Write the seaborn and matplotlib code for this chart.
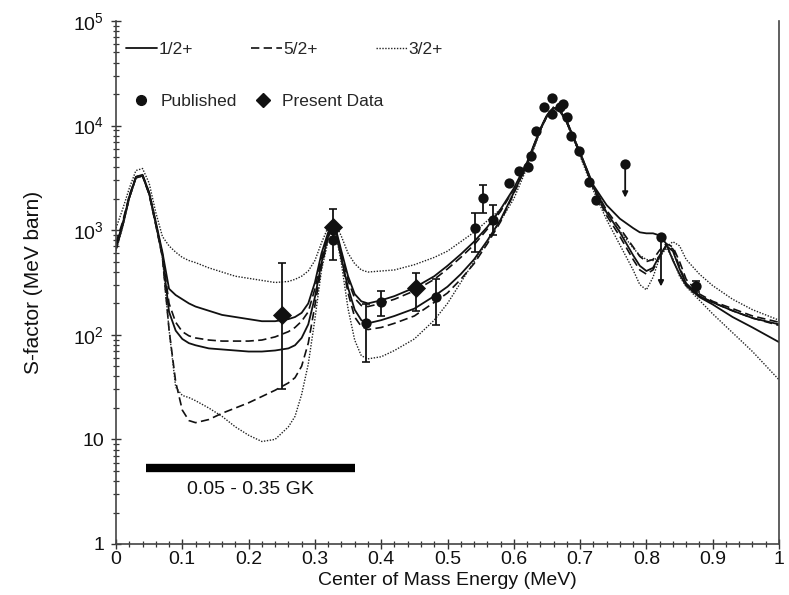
import numpy as np
import matplotlib
matplotlib.use("Agg")
import matplotlib.pyplot as plt
import seaborn as sns
from matplotlib.lines import Line2D
from matplotlib.ticker import FixedLocator, MultipleLocator, LogLocator, NullFormatter

# ---------------- data ----------------
energy = [0.00, 0.01, 0.02, 0.03, 0.04, 0.05, 0.06, 0.07, 0.08, 0.09, 0.10, 0.11, 0.12,
          0.14, 0.16, 0.18, 0.20, 0.22, 0.24, 0.26,
          0.27, 0.28, 0.29, 0.30, 0.31, 0.32, 0.33, 0.34, 0.35, 0.36, 0.37, 0.38,
          0.40, 0.42, 0.45, 0.48, 0.50, 0.52, 0.54, 0.56, 0.58, 0.60,
          0.62, 0.64, 0.65, 0.66, 0.67, 0.68, 0.70, 0.72,
          0.74, 0.76, 0.78, 0.79, 0.80, 0.81, 0.82, 0.83, 0.84, 0.85, 0.86, 0.88, 0.90, 0.93, 0.96, 1.00]

# log10 of S-factor along each curve
half_a_log = [2.85, 3.06, 3.32, 3.51, 3.53, 3.36, 3.08, 2.79, 2.44, 2.38, 2.34, 2.30, 2.27,
              2.23, 2.19, 2.17, 2.15, 2.13, 2.13, 2.15,
              2.17, 2.21, 2.30, 2.50, 2.78, 2.98, 3.05, 2.80, 2.56, 2.39, 2.32, 2.30,
              2.33, 2.37, 2.45, 2.56, 2.66, 2.77, 2.89, 3.03, 3.20, 3.40,
              3.65, 3.97, 4.10, 4.17, 4.14, 4.04, 3.74, 3.43,
              3.24, 3.11, 3.02, 2.98, 2.97, 2.97, 2.95, 2.87, 2.71, 2.58, 2.47, 2.36, 2.29, 2.17, 2.07, 1.93]
half_b_log = [2.82, 3.04, 3.31, 3.50, 3.52, 3.35, 3.06, 2.76, 2.22, 2.04, 1.96, 1.92, 1.90,
              1.87, 1.86, 1.85, 1.84, 1.84, 1.85, 1.87,
              1.90, 1.97, 2.10, 2.36, 2.69, 2.94, 3.03, 2.73, 2.45, 2.24, 2.14, 2.11,
              2.14, 2.18, 2.25, 2.37, 2.46, 2.58, 2.72, 2.90, 3.10, 3.36,
              3.63, 3.96, 4.09, 4.17, 4.14, 4.03, 3.73, 3.41,
              3.17, 2.98, 2.76, 2.66, 2.61, 2.64, 2.76, 2.85, 2.80, 2.63, 2.49, 2.37, 2.31, 2.23, 2.16, 2.10]
five_a_log = [2.88, 3.08, 3.33, 3.51, 3.53, 3.36, 3.07, 2.77, 2.30, 2.12, 2.03, 1.99, 1.97,
              1.95, 1.94, 1.94, 1.94, 1.95, 1.98, 2.03,
              2.07, 2.13, 2.22, 2.44, 2.73, 2.96, 3.04, 2.78, 2.52, 2.35, 2.28, 2.27,
              2.30, 2.34, 2.42, 2.53, 2.63, 2.74, 2.86, 3.01, 3.18, 3.39,
              3.64, 3.97, 4.10, 4.17, 4.14, 4.04, 3.74, 3.42,
              3.19, 3.02, 2.84, 2.75, 2.70, 2.72, 2.81, 2.87, 2.84, 2.70, 2.53, 2.39, 2.32, 2.25, 2.18, 2.12]
five_b_log = [2.84, 3.05, 3.31, 3.50, 3.52, 3.34, 3.05, 2.74, 2.05, 1.55, 1.28, 1.18, 1.16,
              1.19, 1.25, 1.30, 1.35, 1.41, 1.47, 1.54,
              1.59, 1.70, 1.92, 2.28, 2.65, 2.93, 3.03, 2.73, 2.40, 2.17, 2.08, 2.05,
              2.07, 2.11, 2.18, 2.31, 2.40, 2.53, 2.68, 2.87, 3.08, 3.35,
              3.63, 3.96, 4.09, 4.17, 4.14, 4.03, 3.73, 3.40,
              3.14, 2.94, 2.72, 2.62, 2.58, 2.62, 2.75, 2.86, 2.82, 2.65, 2.49, 2.37, 2.31, 2.23, 2.16, 2.09]
three_a_log = [3.02, 3.20, 3.40, 3.57, 3.59, 3.45, 3.17, 2.94, 2.85, 2.79, 2.74, 2.71, 2.69,
               2.64, 2.60, 2.56, 2.54, 2.52, 2.50, 2.51,
               2.53, 2.56, 2.61, 2.71, 2.88, 3.03, 3.08, 2.94, 2.78, 2.68, 2.62, 2.60,
               2.61, 2.62, 2.67, 2.74, 2.80, 2.89, 2.98, 3.09, 3.20, 3.38,
               3.64, 3.97, 4.10, 4.18, 4.15, 4.05, 3.75, 3.42,
               3.16, 2.99, 2.83, 2.76, 2.72, 2.71, 2.75, 2.84, 2.89, 2.85, 2.72, 2.58, 2.47, 2.34, 2.24, 2.14]
three_b_log = [2.80, 3.03, 3.30, 3.50, 3.52, 3.34, 3.05, 2.74, 2.05, 1.50, 1.42, 1.40, 1.37,
               1.30, 1.22, 1.12, 1.04, 0.98, 1.00, 1.12,
               1.22, 1.43, 1.72, 2.15, 2.62, 2.90, 3.02, 2.68, 2.25, 1.95, 1.80, 1.77,
               1.79, 1.85, 1.96, 2.14, 2.30, 2.50, 2.70, 2.89, 3.09, 3.30,
               3.60, 3.95, 4.09, 4.17, 4.13, 4.02, 3.71, 3.38,
               3.10, 2.86, 2.62, 2.48, 2.43, 2.55, 2.74, 2.83, 2.73, 2.56, 2.46, 2.33, 2.20, 2.02, 1.84, 1.57]

# published data (circles)
pub_e = [0.327, 0.377, 0.400, 0.483, 0.542, 0.553, 0.568, 0.593, 0.608, 0.621, 0.626, 0.634,
         0.646, 0.658, 0.658, 0.669, 0.674, 0.680, 0.687, 0.699, 0.714, 0.724, 0.875]
pub_s = [800, 130, 205, 230, 1050, 2050, 1260, 2800, 3700, 4000, 5100, 8900,
         15000, 18500, 13000, 15000, 16000, 12000, 8000, 5700, 2900, 1950, 290]
# error bars on published data
pub_err_e = [0.377, 0.400, 0.483, 0.542, 0.553, 0.568, 0.875]
pub_err_s = [130, 205, 230, 1050, 2050, 1260, 290]
pub_err_lo = [55, 150, 125, 615, 1450, 890, 255]
pub_err_hi = [195, 260, 340, 1450, 2700, 1740, 330]
# upper limits (arrows)
lim_e = [0.768, 0.822]
lim_s = [4300, 870]
lim_to = [2050, 290]

# present data (diamonds)
pres_e = [0.251, 0.327, 0.452]
pres_s = [155, 1070, 280]
pres_lo = [30, 520, 170]
pres_hi = [485, 1600, 390]

# temperature window bar
gk_range = [0.045, 0.36]
gk_level = [5.3, 5.3]
gk_label = "0.05 - 0.35 GK"

legend_lines = ["1/2+", "5/2+", "3/2+"]
legend_marks = ["Published", "Present Data"]

# ---------------- figure ----------------
sns.set_theme(style="white")
plt.rcParams["font.family"] = ["Liberation Sans", "DejaVu Sans"]
plt.rcParams["mathtext.fontset"] = "custom"
plt.rcParams["mathtext.rm"] = "Liberation Sans"

W, H = 789, 595
fig = plt.figure(figsize=(W / 100, H / 100), dpi=100)
ax = fig.add_axes([116 / W, 1 - 544 / H, (779 - 116) / W, (544 - 21) / H])

ink = "#111111"
solid = dict(color=ink, lw=1.3, linestyle="-")
dashed = dict(color=ink, lw=1.2, linestyle=(0, (5, 2.6)))
dotted = dict(color="#222222", lw=1.0, linestyle=(0, (1.0, 1.1)))

e = np.array(energy)
for logs, sty in [(half_a_log, solid), (half_b_log, solid),
                  (five_a_log, dashed), (five_b_log, dashed),
                  (three_a_log, dotted), (three_b_log, dotted)]:
    sns.lineplot(x=e, y=10 ** np.array(logs), ax=ax, estimator=None, sort=False,
                 legend=False, **sty)

# error bars
ps = np.array(pub_err_s)
ax.errorbar(pub_err_e, ps, yerr=[ps - np.array(pub_err_lo), np.array(pub_err_hi) - ps],
            fmt="none", ecolor=ink, elinewidth=1.3, capsize=3, capthick=1.2, zorder=4)
rs = np.array(pres_s)
ax.errorbar(pres_e, rs, yerr=[rs - np.array(pres_lo), np.array(pres_hi) - rs],
            fmt="none", ecolor=ink, elinewidth=1.3, capsize=3, capthick=1.2, zorder=4)

# upper-limit arrows
for xe, s0, s1 in zip(lim_e, lim_s, lim_to):
    ax.annotate("", xy=(xe, s1), xytext=(xe, s0),
                arrowprops=dict(arrowstyle="-|>", color=ink, lw=1.3, mutation_scale=8,
                                shrinkA=0, shrinkB=0), zorder=4)

sns.scatterplot(x=pub_e + lim_e, y=pub_s + lim_s, marker="o", s=55, color=ink,
                edgecolor=ink, linewidth=0, ax=ax, zorder=6, legend=False)
sns.scatterplot(x=pres_e, y=pres_s, marker="D", s=95, color=ink, edgecolor=ink,
                linewidth=0, ax=ax, zorder=7, legend=False)

# GK window bar
ax.plot(gk_range, gk_level, color="black", lw=6, solid_capstyle="butt", zorder=3)
ax.text(sum(gk_range) / 2, 3.35, gk_label, ha="center", va="center", fontsize=14, color=ink)

# axes
ax.set_yscale("log")
ax.set_xlim(0, 1)
ax.set_ylim(1, 1e5)
xt = np.round(np.arange(0, 1.01, 0.1), 1)
ax.set_xticks(xt)
ax.set_xticklabels(["0"] + [f"{v:.1f}" for v in xt[1:-1]] + ["1"])
ax.xaxis.set_minor_locator(MultipleLocator(0.02))
yt = [1, 10, 100, 1e3, 1e4, 1e5]
ax.yaxis.set_major_locator(FixedLocator(yt))
ax.set_yticklabels(["1", "10", r"$\mathregular{10^2}$", r"$\mathregular{10^3}$",
                    r"$\mathregular{10^4}$", r"$\mathregular{10^5}$"])
ax.yaxis.set_minor_locator(LogLocator(base=10, subs=np.arange(2, 10), numticks=20))
ax.yaxis.set_minor_formatter(NullFormatter())
ax.tick_params(axis="both", which="major", direction="inout", length=7, width=1.0,
               color="#333333", labelsize=14, labelcolor=ink)
ax.tick_params(axis="x", which="major", pad=1.5)
ax.tick_params(axis="y", which="major", pad=5)
ax.tick_params(axis="both", which="minor", direction="inout", length=5, width=0.9,
               color="#333333")
ax.tick_params(axis="x", which="both", top=False, bottom=True)
ax.tick_params(axis="y", which="both", right=False, left=True)

for side in ["left", "bottom", "right"]:
    ax.spines[side].set_visible(True)
    ax.spines[side].set_color("#444444")
    ax.spines[side].set_linewidth(1.2)
ax.spines["top"].set_visible(False)

ax.set_xlabel("Center of Mass Energy (MeV)", fontsize=14, color=ink, labelpad=3)
ax.set_ylabel("S-factor (MeV barn)", fontsize=15, color=ink, labelpad=22)

# legends
h_lines = [Line2D([], [], **solid), Line2D([], [], **dashed), Line2D([], [], **dotted)]
leg1 = ax.legend(h_lines, legend_lines, loc="upper left", bbox_to_anchor=(0.015, 0.96),
                 ncol=3, frameon=False, fontsize=12.5, handlelength=1.8, handletextpad=0.1,
                 columnspacing=3.3, borderaxespad=0, borderpad=0)
ax.add_artist(leg1)
h_marks = [Line2D([], [], marker="o", color=ink, linestyle="none", markersize=7),
           Line2D([], [], marker="D", color=ink, linestyle="none", markersize=7)]
ax.legend(h_marks, legend_marks, loc="upper left", bbox_to_anchor=(0.025, 0.86),
          ncol=2, frameon=False, fontsize=12.5, handlelength=1.0, handletextpad=0.6,
          columnspacing=1.0, borderaxespad=0, borderpad=0)

fig.savefig("out.png", dpi=100)
